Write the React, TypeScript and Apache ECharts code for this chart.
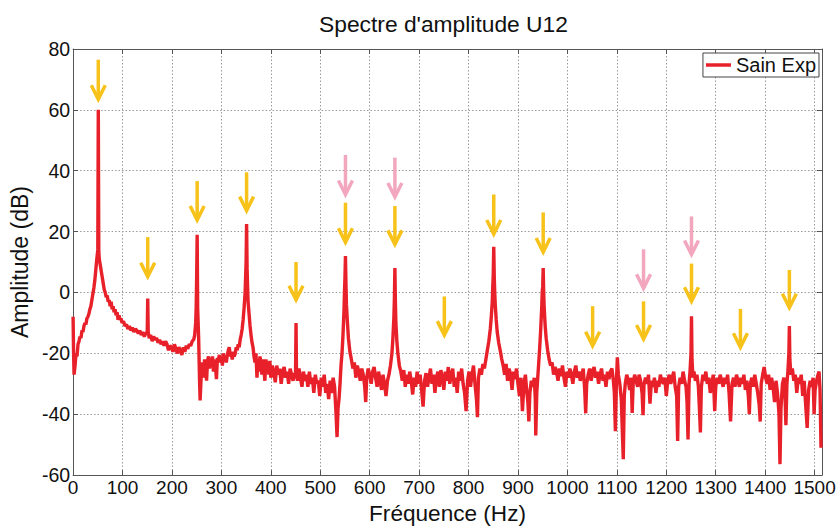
import React, { useEffect, useRef } from "react";
import * as echarts from "echarts";

const titleText = "Spectre d'amplitude U12";
const seriesName = "Sain Exp";
const xAxisName = "Fréquence (Hz)";
const yAxisName = "Amplitude (dB)";

// [frequency Hz, amplitude dB]
const band0to260: [number, number][] = [
  [0, -8], [1, -20], [2, -27], [4, -24], [6, -20], [8, -21], [10, -17], [12, -16], [14, -14.5], [16, -15],
  [18, -12.5], [20, -13], [22, -11], [24, -10], [26, -10.5], [28, -8.5], [30, -8], [32, -7], [34, -5.5],
  [36, -4.5], [38, -2.5], [40, -0.5], [42, 1.5], [44, 4], [46, 7.5], [48, 11], [50, 14], [51, 60], [52, 13.5],
  [53, 11], [55, 9], [57, 7], [59, 5], [61, 3], [63, 1], [65, 0], [67, -1.5], [69, -1], [71, -3], [73, -2.5],
  [75, -4.5], [77, -3], [79, -5.5], [81, -4.5], [83, -6.5], [85, -5.5], [87, -7.5], [89, -6.5], [91, -9],
  [93, -7.5], [95, -9], [97, -8.5], [99, -10], [102, -9.5], [105, -11], [108, -10.5], [111, -12], [114, -11],
  [117, -12.5], [120, -11.5], [123, -13], [126, -12], [129, -12.5], [132, -13.5], [135, -12.5], [138, -14],
  [141, -13], [144, -14.5], [147, -13.5], [150, -13], [151, -2], [152, -13], [154, -15], [157, -14],
  [160, -16], [163, -14.5], [166, -15.5], [169, -15], [172, -16.5], [175, -15.5], [178, -17], [181, -16],
  [184, -17.5], [187, -16], [190, -17], [193, -19], [196, -17.5], [199, -18], [202, -19.5], [205, -17],
  [208, -18.5], [211, -20], [214, -18], [217, -19], [220, -20.5], [223, -18], [226, -19.5], [229, -17.5],
  [232, -18.5], [235, -17], [238, -17.5], [241, -16], [244, -15.5], [246, -14], [248, -10], [249, -5],
  [250, 5], [251, 19], [252, -5], [254, -15], [256, -30], [257, -35.5], [259, -28],
];

const band260to560: [number, number][] = [
  [261, -24], [262, -23], [264, -28], [266, -22], [268, -24], [270, -29], [272, -22.5], [274, -21],
  [276, -25], [278, -22], [280, -23], [282, -21], [284, -26], [286, -22], [288, -24], [290, -28.5],
  [292, -21.5], [294, -22], [296, -20.5], [298, -23], [300, -21], [302, -24], [304, -20], [306, -22],
  [308, -21], [310, -23], [312, -20.5], [314, -19], [316, -18], [318, -21], [320, -20], [322, -22],
  [324, -19.5], [326, -21], [328, -20], [330, -18], [332, -19], [334, -17], [336, -18], [338, -15.5],
  [340, -14], [342, -12], [344, -9], [346, -5], [348, 0], [349, 5], [350, 10], [351, 22.5], [352, 8],
  [353, 2], [354, -3], [356, -7], [358, -11], [360, -14], [362, -16.5], [364, -18], [366, -21], [368, -23],
  [370, -20], [372, -28], [374, -22], [376, -26], [378, -21], [380, -23], [382, -27], [384, -22],
  [386, -25], [388, -29], [390, -22], [392, -24], [394, -23], [396, -27], [398, -22.5], [400, -28],
  [403, -24], [406, -26], [409, -29.5], [412, -24], [415, -27], [418, -25], [421, -30], [424, -26],
  [427, -24.5], [430, -28], [433, -26], [436, -30], [439, -25], [442, -27], [445, -29], [448, -26.5],
  [450, -27], [451, -10], [452, -27], [454, -29], [457, -25], [460, -28], [463, -31], [466, -26],
  [469, -29], [472, -27], [475, -31], [478, -26], [481, -30], [484, -28], [487, -33], [490, -27],
  [493, -30], [496, -29], [499, -34], [502, -28], [505, -31], [508, -27], [511, -33], [514, -30],
  [517, -35], [520, -29], [523, -33], [526, -28], [529, -31], [532, -40], [534, -47.5], [536, -38],
  [538, -35], [540, -30], [542, -24], [544, -20], [546, -14], [548, -6], [549, 0], [550, 5], [551, 12],
  [552, 3], [553, -4], [555, -10], [557, -15], [560, -19.5],
];

const band560to870: [number, number][] = [
  [563, -22], [566, -25], [569, -23], [572, -28], [575, -24], [578, -26], [581, -29], [584, -25],
  [587, -27], [590, -31], [592, -36], [594, -28], [597, -25], [600, -27], [603, -30], [606, -26],
  [609, -24.5], [612, -28], [615, -31], [618, -26], [621, -29], [624, -32], [627, -27], [630, -30],
  [633, -34], [636, -29], [639, -27], [642, -24], [645, -20], [647, -15], [649, -8], [650, -2], [651, 8],
  [652, -3], [653, -10], [655, -16], [657, -20], [660, -24], [663, -26], [666, -29], [669, -25.5],
  [672, -31], [675, -27], [678, -30], [681, -26], [684, -29], [687, -33.5], [690, -28], [693, -31],
  [696, -26], [699, -30], [702, -27], [705, -32], [708, -37.5], [711, -29], [714, -26.5], [717, -31],
  [720, -28], [723, -25], [726, -30], [729, -27], [732, -33], [735, -28], [738, -26], [741, -31],
  [744, -25.5], [747, -28], [750, -32], [753, -26], [756, -29], [759, -24.5], [762, -30], [765, -27],
  [768, -25], [771, -31], [774, -28], [777, -33], [780, -26], [783, -29], [786, -25], [789, -30],
  [792, -33], [795, -39], [798, -29], [801, -26], [804, -31], [807, -27], [810, -24], [813, -30],
  [816, -35], [818, -41], [820, -28], [823, -25], [826, -27], [829, -23.5], [832, -25], [835, -22],
  [838, -19], [841, -16], [844, -12], [846, -8], [848, -3], [849, 2], [850, 6], [851, 15], [852, 5],
  [853, 0], [854, -4], [856, -9], [858, -13], [861, -16.5], [864, -19], [867, -21.8],
];

const band870to1115: [number, number][] = [
  [870, -24], [873, -27], [876, -23.5], [879, -29], [882, -25], [885, -27], [888, -32], [891, -26],
  [894, -28.5], [897, -25], [900, -30], [903, -34], [906, -28], [909, -39], [912, -30], [915, -27],
  [918, -33], [920, -36], [922, -42.4], [924, -33], [927, -29], [930, -31], [933, -28], [935, -35],
  [936, -47], [938, -33], [940, -28], [942, -23], [944, -18], [946, -12], [948, -5], [949, 0], [950, 2],
  [951, 8], [952, 0], [953, -5], [955, -11], [957, -15], [960, -19], [963, -22], [966, -24], [969, -23],
  [972, -27], [975, -24.5], [978, -26], [981, -29], [984, -25], [987, -27.5], [990, -24], [993, -28],
  [996, -31], [999, -26], [1002, -28], [1005, -25], [1008, -27], [1011, -30], [1014, -26], [1017, -24],
  [1020, -28], [1023, -26], [1026, -29], [1029, -27], [1032, -25], [1035, -32], [1037, -39.7],
  [1039, -30], [1042, -27], [1045, -25], [1048, -29], [1051, -26], [1054, -24.5], [1057, -28],
  [1060, -26], [1063, -30], [1066, -27], [1069, -25], [1072, -29], [1075, -27], [1078, -31], [1081, -26],
  [1084, -28.5], [1087, -26], [1090, -25], [1093, -29], [1095, -33], [1097, -45.6], [1099, -30],
  [1101, -21.3], [1103, -27], [1106, -30], [1109, -35], [1111, -45], [1113, -54.8], [1115, -34],
];

const band1115to1515: [number, number][] = [
  [1117, -30], [1120, -27], [1123, -29], [1126, -32], [1129, -28], [1131, -39.6], [1133, -30],
  [1136, -27], [1139, -29], [1142, -31], [1145, -27], [1148, -29], [1151, -33], [1153, -40.3],
  [1155, -30], [1158, -28], [1161, -30], [1164, -27], [1167, -36.5], [1170, -29], [1173, -31],
  [1176, -28], [1179, -33], [1182, -29], [1185, -31], [1188, -27], [1191, -29], [1194, -30], [1197, -28],
  [1200, -34], [1203, -29], [1206, -27], [1209, -30], [1212, -28], [1215, -26], [1218, -31], [1221, -34],
  [1223, -48.8], [1225, -31], [1228, -28], [1231, -30], [1234, -26], [1237, -29], [1240, -31],
  [1242, -36], [1244, -48.3], [1246, -30], [1248, -26], [1250, -20], [1251, -7.8], [1252, -22],
  [1254, -28], [1256, -26], [1259, -29], [1262, -27], [1265, -31], [1267, -38], [1269, -46], [1271, -31],
  [1274, -27], [1277, -29], [1280, -26], [1283, -30], [1286, -28], [1289, -33], [1292, -30], [1295, -27],
  [1298, -39], [1300, -31], [1303, -28], [1306, -30], [1309, -27], [1312, -29], [1315, -31], [1318, -28],
  [1321, -30], [1324, -27], [1327, -33], [1330, -42.4], [1333, -30], [1336, -28], [1339, -31],
  [1342, -27], [1345, -29], [1348, -31], [1351, -28], [1354, -30], [1357, -27], [1360, -32], [1363, -29],
  [1366, -34], [1368, -40], [1370, -30], [1373, -28], [1376, -31], [1379, -27], [1382, -30], [1385, -33],
  [1388, -37], [1390, -42.4], [1392, -30], [1395, -27], [1398, -24.5], [1401, -28], [1404, -30],
  [1407, -27], [1410, -32], [1413, -28], [1416, -31], [1419, -36], [1422, -29], [1425, -33], [1428, -40],
  [1430, -56.4], [1432, -38], [1435, -30], [1438, -28], [1440, -33], [1442, -43.6], [1444, -30],
  [1446, -26], [1448, -20], [1449, -11], [1450, -22], [1452, -27], [1455, -25], [1458, -29], [1461, -27],
  [1464, -33], [1467, -28], [1470, -30], [1473, -27], [1476, -34], [1479, -29], [1482, -37],
  [1485, -44.5], [1488, -32], [1491, -29], [1494, -31], [1497, -28], [1499, -40], [1501, -32],
  [1504, -29], [1507, -27], [1509, -26], [1511, -32], [1513, -51],
];

// arrows: [frequency, top dB, tip dB]
const yellowArrows: [number, number, number][] = [
  [51, 76.5, 63.5], [151, 18.2, 5.2], [251, 36.6, 23.8], [351, 39.5, 26.9], [451, 10, -2.4],
  [551, 29.5, 16.5], [651, 28.4, 15.8], [751, -1.3, -14], [851, 32.2, 19.2], [951, 26.3, 13.3],
  [1051, -4.5, -17.5], [1154, -2.9, -15.3], [1251, 9.5, -2.9], [1350, -5.4, -18], [1449, 7.4, -5],
];
const pinkArrows: [number, number, number][] = [
  [551, 45.2, 32.2], [651, 44.3, 31.4], [1154, 14.2, 1.4], [1251, 25, 12.5],
];

const FONT = "'Liberation Sans', Arial, sans-serif";
const RED = "#e8202a";
const YELLOW = "#f7c21a";
const PINK = "#f2a7bf";

function arrowRenderer(color: string) {
  return (_params: any, api: any) => {
    const top = api.coord([api.value(0), api.value(1)]);
    const tip = api.coord([api.value(0), api.value(2)]);
    return {
      type: "group",
      children: [
        {
          type: "line",
          shape: { x1: top[0], y1: top[1], x2: tip[0], y2: tip[1] - 1 },
          style: { stroke: color, lineWidth: 3.5 },
        },
        {
          type: "polyline",
          shape: {
            points: [
              [tip[0] - 7, tip[1] - 14],
              [tip[0], tip[1]],
              [tip[0] + 7, tip[1] - 14],
            ],
          },
          style: { stroke: color, lineWidth: 3.5, fill: null },
        },
      ],
    };
  };
}

export default function App() {
  const ref = useRef<HTMLDivElement>(null);
  useEffect(() => {
    if (!ref.current) return;
    const chart = echarts.init(ref.current, null, { renderer: "svg" });
    const spectrum = [
      ...band0to260,
      ...band260to560,
      ...band560to870,
      ...band870to1115,
      ...band1115to1515,
    ];
    const gridLine = { show: true, lineStyle: { color: "#9a9a9a", type: [1.5, 2] as any, width: 1 } };
    const axisLineStyle = { show: true, onZero: false, lineStyle: { color: "#555", width: 1 } };
    const tickStyle = { show: true, inside: true, length: 5, lineStyle: { color: "#555" } };
    chart.setOption({
      animation: false,
      backgroundColor: "#fff",
      title: {
        text: titleText,
        left: 314,
        top: 7,
        textStyle: { fontFamily: FONT, fontSize: 22.8, fontWeight: "normal", color: "#111" },
      },
      legend: {
        data: [{ name: seriesName, icon: "rect" }],
        right: 20,
        top: 53,
        itemWidth: 25,
        itemHeight: 3.5,
        padding: [2, 3, 2, 3],
        borderColor: "#444",
        borderWidth: 1,
        backgroundColor: "#fff",
        textStyle: { fontFamily: FONT, fontSize: 20, color: "#111" },
      },
      grid: { left: 68, right: 17, top: 49, bottom: 49, containLabel: false },
      xAxis: [
        {
          type: "value",
          position: "bottom",
          min: 0,
          max: 1515,
          interval: 100,
          name: xAxisName,
          nameLocation: "middle",
          nameGap: 19,
          nameTextStyle: { fontFamily: FONT, fontSize: 22.6, color: "#111" },
          axisLine: axisLineStyle,
          axisTick: tickStyle,
          splitLine: gridLine,
          axisLabel: {
            showMaxLabel: false,
            margin: 3,
            fontFamily: FONT,
            fontSize: 19,
            color: "#111",
            formatter: (v: number) => String(v),
          },
        },
        {
          type: "value",
          position: "top",
          min: 0,
          max: 1515,
          interval: 100,
          axisLine: axisLineStyle,
          axisTick: tickStyle,
          splitLine: { show: false },
          axisLabel: { show: false },
        },
      ],
      yAxis: [
        {
          type: "value",
          position: "left",
          min: -60,
          max: 80,
          interval: 20,
          name: yAxisName,
          nameLocation: "middle",
          nameGap: 34,
          nameTextStyle: { fontFamily: FONT, fontSize: 23, color: "#111" },
          axisLine: axisLineStyle,
          axisTick: tickStyle,
          splitLine: gridLine,
          axisLabel: {
            margin: 3,
            fontFamily: FONT,
            fontSize: 19.5,
            color: "#111",
            formatter: (v: number) => String(v),
          },
        },
        {
          type: "value",
          position: "right",
          min: -60,
          max: 80,
          interval: 20,
          axisLine: axisLineStyle,
          axisTick: tickStyle,
          splitLine: { show: false },
          axisLabel: { show: false },
        },
      ],
      series: [
        {
          name: seriesName,
          type: "line",
          data: spectrum,
          showSymbol: false,
          symbol: "none",
          color: RED,
          lineStyle: { color: RED, width: 3.4 },
          xAxisIndex: 0,
          yAxisIndex: 0,
          z: 3,
        },
        {
          name: "yellowArrows",
          type: "custom",
          data: yellowArrows,
          renderItem: arrowRenderer(YELLOW),
          xAxisIndex: 0,
          yAxisIndex: 0,
          clip: false,
          z: 4,
        },
        {
          name: "pinkArrows",
          type: "custom",
          data: pinkArrows,
          renderItem: arrowRenderer(PINK),
          xAxisIndex: 0,
          yAxisIndex: 0,
          clip: false,
          z: 4,
        },
      ],
    });
    return () => chart.dispose();
  }, []);
  return (
    <div
      ref={ref}
      style={{ position: "fixed", left: 0, top: 0, width: 839, height: 530, background: "#fff" }}
    />
  );
}
